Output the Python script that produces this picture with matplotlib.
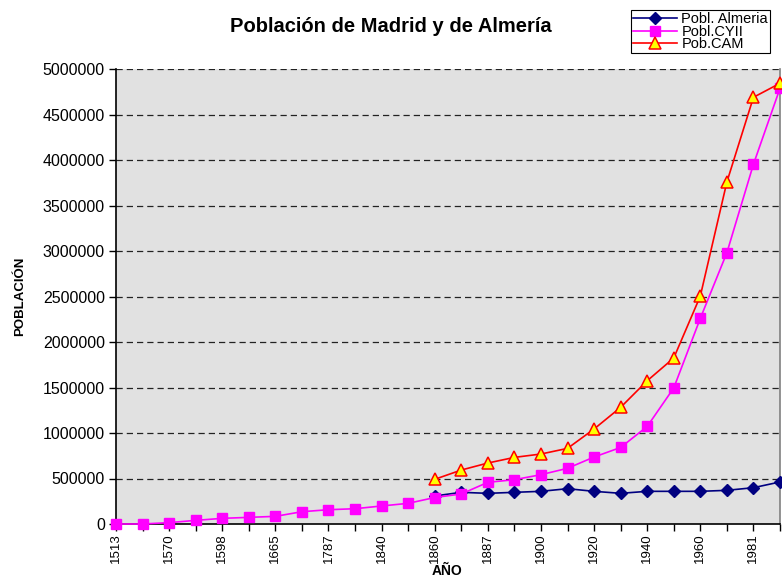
"""
Población de Madrid y de Almería - line chart recreation.
"""

import numpy as np
import matplotlib
matplotlib.use('Agg')
import matplotlib.pyplot as plt

plt.rcParams['font.family'] = ['Liberation Sans', 'DejaVu Sans']

# Categories (years); only every other one is labelled on the axis
years = ['1513', '1530', '1570', '1591', '1598', '1630', '1665', '1757',
         '1787', '1797', '1840', '1850', '1860', '1877', '1887', '1897',
         '1900', '1910', '1920', '1930', '1940', '1950', '1960', '1970',
         '1981', '1991']

nan = np.nan

pobl_almeria = [nan, nan, nan, nan, nan, nan, nan, nan, nan, nan, nan, nan,
                308000, 348000, 337000, 348000, 359000, 388000, 359000,
                337000, 359000, 359000, 359000, 370000, 399000, 462000]

pobl_cyii = [0, 0, 15000, 40000, 62000, 73000, 84000, 135000, 157000,
             168000, 198000, 227000, 291000, 330000, 458000, 487000,
             542000, 612000, 736000, 841000, 1072000, 1495000, 2260000,
             2981000, 3953000, 4788000]

pob_cam = [nan, nan, nan, nan, nan, nan, nan, nan, nan, nan, nan, nan,
           491000, 593000, 670000, 732000, 769000, 831000, 1044000,
           1282000, 1574000, 1824000, 2505000, 3758000, 4689000, 4843000]

y_ticks = [0, 500000, 1000000, 1500000, 2000000, 2500000, 3000000,
           3500000, 4000000, 4500000, 5000000]

W, H = 782, 578
fig = plt.figure(figsize=(W / 100, H / 100), dpi=100, facecolor='white')
ax = fig.add_axes([116 / W, 1 - 524 / H, 664 / W, 455 / H])
ax.set_facecolor('#E1E1E1')

x = np.arange(len(years))

# Gridlines
for yt in y_ticks[1:]:
    ax.axhline(yt, color='#222222', lw=0.9, ls=(0, (5, 3.2)), zorder=1)

ax.plot(x, pobl_almeria, color='#000080', lw=1.2, marker='D', ms=6,
        mfc='#000080', mec='#000080', label='Pobl. Almeria', zorder=3,
        clip_on=False)
ax.plot(x, pobl_cyii, color='#FF00FF', lw=1.2, marker='s', ms=7.2,
        mfc='#FF00FF', mec='#FF00FF', label='Pobl.CYII', zorder=4,
        clip_on=False)
ax.plot(x, pob_cam, color='#FF0000', lw=1.2, marker='^', ms=8,
        mfc='#FFFF00', mec='#FF0000', mew=1.1, label='Pob.CAM', zorder=5,
        clip_on=False)

ax.set_xlim(0, len(years) - 1)
ax.set_ylim(0, 5000000)

ax.set_yticks(y_ticks)
ax.set_yticklabels([str(v) for v in y_ticks], fontsize=11.5)
ax.set_xticks(x)
ax.set_xticklabels([y if i % 2 == 0 else '' for i, y in enumerate(years)],
                   rotation=90, fontsize=9.5)
ax.tick_params(axis='both', direction='out', length=5, width=1,
               color='black', pad=3)
ax.tick_params(axis='x', pad=2)

for side in ['left', 'bottom']:
    ax.spines[side].set_color('black')
    ax.spines[side].set_linewidth(1.2)
ax.spines['top'].set_visible(False)
ax.spines['right'].set_color('#808080')
ax.spines['right'].set_linewidth(1.2)

ax.set_ylabel('POBLACIÓN', fontsize=9.5, fontweight='bold', labelpad=12)
ax.set_xlabel('AÑO', fontsize=10, fontweight='bold', va='center')
ax.xaxis.set_label_coords((447 - 116) / 664, -(571 - 524) / 455)

fig.text(391 / W, 1 - 27 / H, 'Población de Madrid y de Almería',
         ha='center', va='center', fontsize=14.5, fontweight='bold')

leg = fig.legend(loc='upper left', bbox_to_anchor=(631 / W, 1 - 10 / H),
                 bbox_transform=fig.transFigure, fontsize=10.5,
                 frameon=True, fancybox=False, edgecolor='black',
                 framealpha=1, borderpad=0.15, labelspacing=-0.1,
                 handlelength=3.0, handletextpad=0.3, borderaxespad=0)
leg.get_frame().set_linewidth(0.8)

fig.savefig('out.png', dpi=100, facecolor='white')
